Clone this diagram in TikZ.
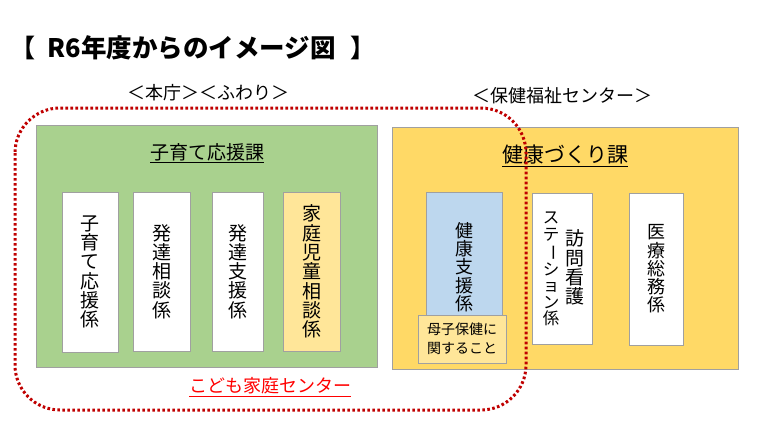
\documentclass[tikz,border=0pt]{standalone}
\usepackage{fontspec}
\setmainfont{Noto Sans CJK JP}
\usepackage{xcolor}
\usepackage{graphicx}
\usetikzlibrary{positioning}
\definecolor{kgreen}{HTML}{A9D18E}
\definecolor{kyellow}{HTML}{FFD966}
\definecolor{kpale}{HTML}{FFE699}
\definecolor{kblue}{HTML}{BDD7EE}
\definecolor{kred}{HTML}{C00000}
\definecolor{kframe}{HTML}{A0A0A0}
\newcommand\tate{\rotatebox[origin=c]{-90}{ー}}

\begin{document}
\begin{tikzpicture}[x=1pt,y=-1pt,
ka/.style={draw=kframe,fill=#1,line width=0.8pt},
kakari/.style={draw=kframe,fill=#1,line width=0.6pt,inner sep=0pt,align=center,font=\fontsize{19}{19.3}\selectfont},
kakari/.default=white]
\useasboundingbox[fill=white](0,0)rectangle(768,432);
% title
\node[anchor=west,font=\fontsize{25}{25}\selectfont\bfseries](kakko1) at (7,48){【};
\node[anchor=west,font=\fontsize{25.5}{25.5}\selectfont\bfseries](midashi) at (44,48){R6年度からのイメージ図};
\node[anchor=west,font=\fontsize{25}{25}\selectfont\bfseries](kakko2) at (347,48){】};
\node[font=\fontsize{18}{18}\selectfont](honcho) at (208,93){＜本庁＞＜ふわり＞};
\node[font=\fontsize{18}{18}\selectfont](hoken) at (562,96){＜保健福祉センター＞};
% 子育て応援課
\draw[ka=kgreen](36,125)rectangle(377,367);
\node[font=\fontsize{19}{19}\selectfont](kosodate) at (207,153){\underline{子育て応援課}};
\node[kakari,minimum width=56,minimum height=160](k1) at (90,272){子\\育\\て\\応\\援\\係};
\node[kakari,minimum width=57,minimum height=159](k2) at (161.5,271.5){発\\達\\相\\談\\係};
\node[kakari,minimum width=51,minimum height=159](k3) at (237.5,271.5){発\\達\\支\\援\\係};
\node[kakari=kpale,minimum width=57,minimum height=159](k4) at (311.5,271.5){家\\庭\\児\\童\\相\\談\\係};
% 健康づくり課
\draw[ka=kyellow](392,127)rectangle(738,369);
\node[font=\fontsize{21}{21}\selectfont](kenko) at (565,156){\underline{健康づくり課}};
\node[kakari=kblue,minimum width=76,minimum height=125](k5) at (464,254.5){};
\node[kakari,font=\fontsize{18}{18.2}\selectfont,draw=none,fill=none](k5t) at (464,267){健\\康\\支\\援\\係};
\node[kakari=kpale,minimum width=88,minimum height=48,font=\fontsize{14}{19}\selectfont](boshi) at (462,339){母子保健に\\関すること};
\node[kakari,minimum width=60,minimum height=151](k6) at (562,268.5){};
\node[kakari,draw=none,fill=none](k6a) at (575,267.5){訪\\問\\看\\護};
\node[kakari,draw=none,fill=none,font=\fontsize{16.5}{16.6}\selectfont](k6b) at (551,269){ス\\テ\\\tate\\シ\\ョ\\ン\\係};
\node[kakari,minimum width=54,minimum height=152,font=\fontsize{18}{18.2}\selectfont](k7) at (656,269){医\\療\\総\\務\\係};
% こども家庭センター
\node[font=\fontsize{18}{18}\selectfont,text=red](center) at (270,387){\underline{こども家庭センター}};
\draw[kred,line width=3pt,dash pattern=on 2.6pt off 2.4pt,rounded corners=45pt](15,108)rectangle(526,410);
\end{tikzpicture}
\end{document}
